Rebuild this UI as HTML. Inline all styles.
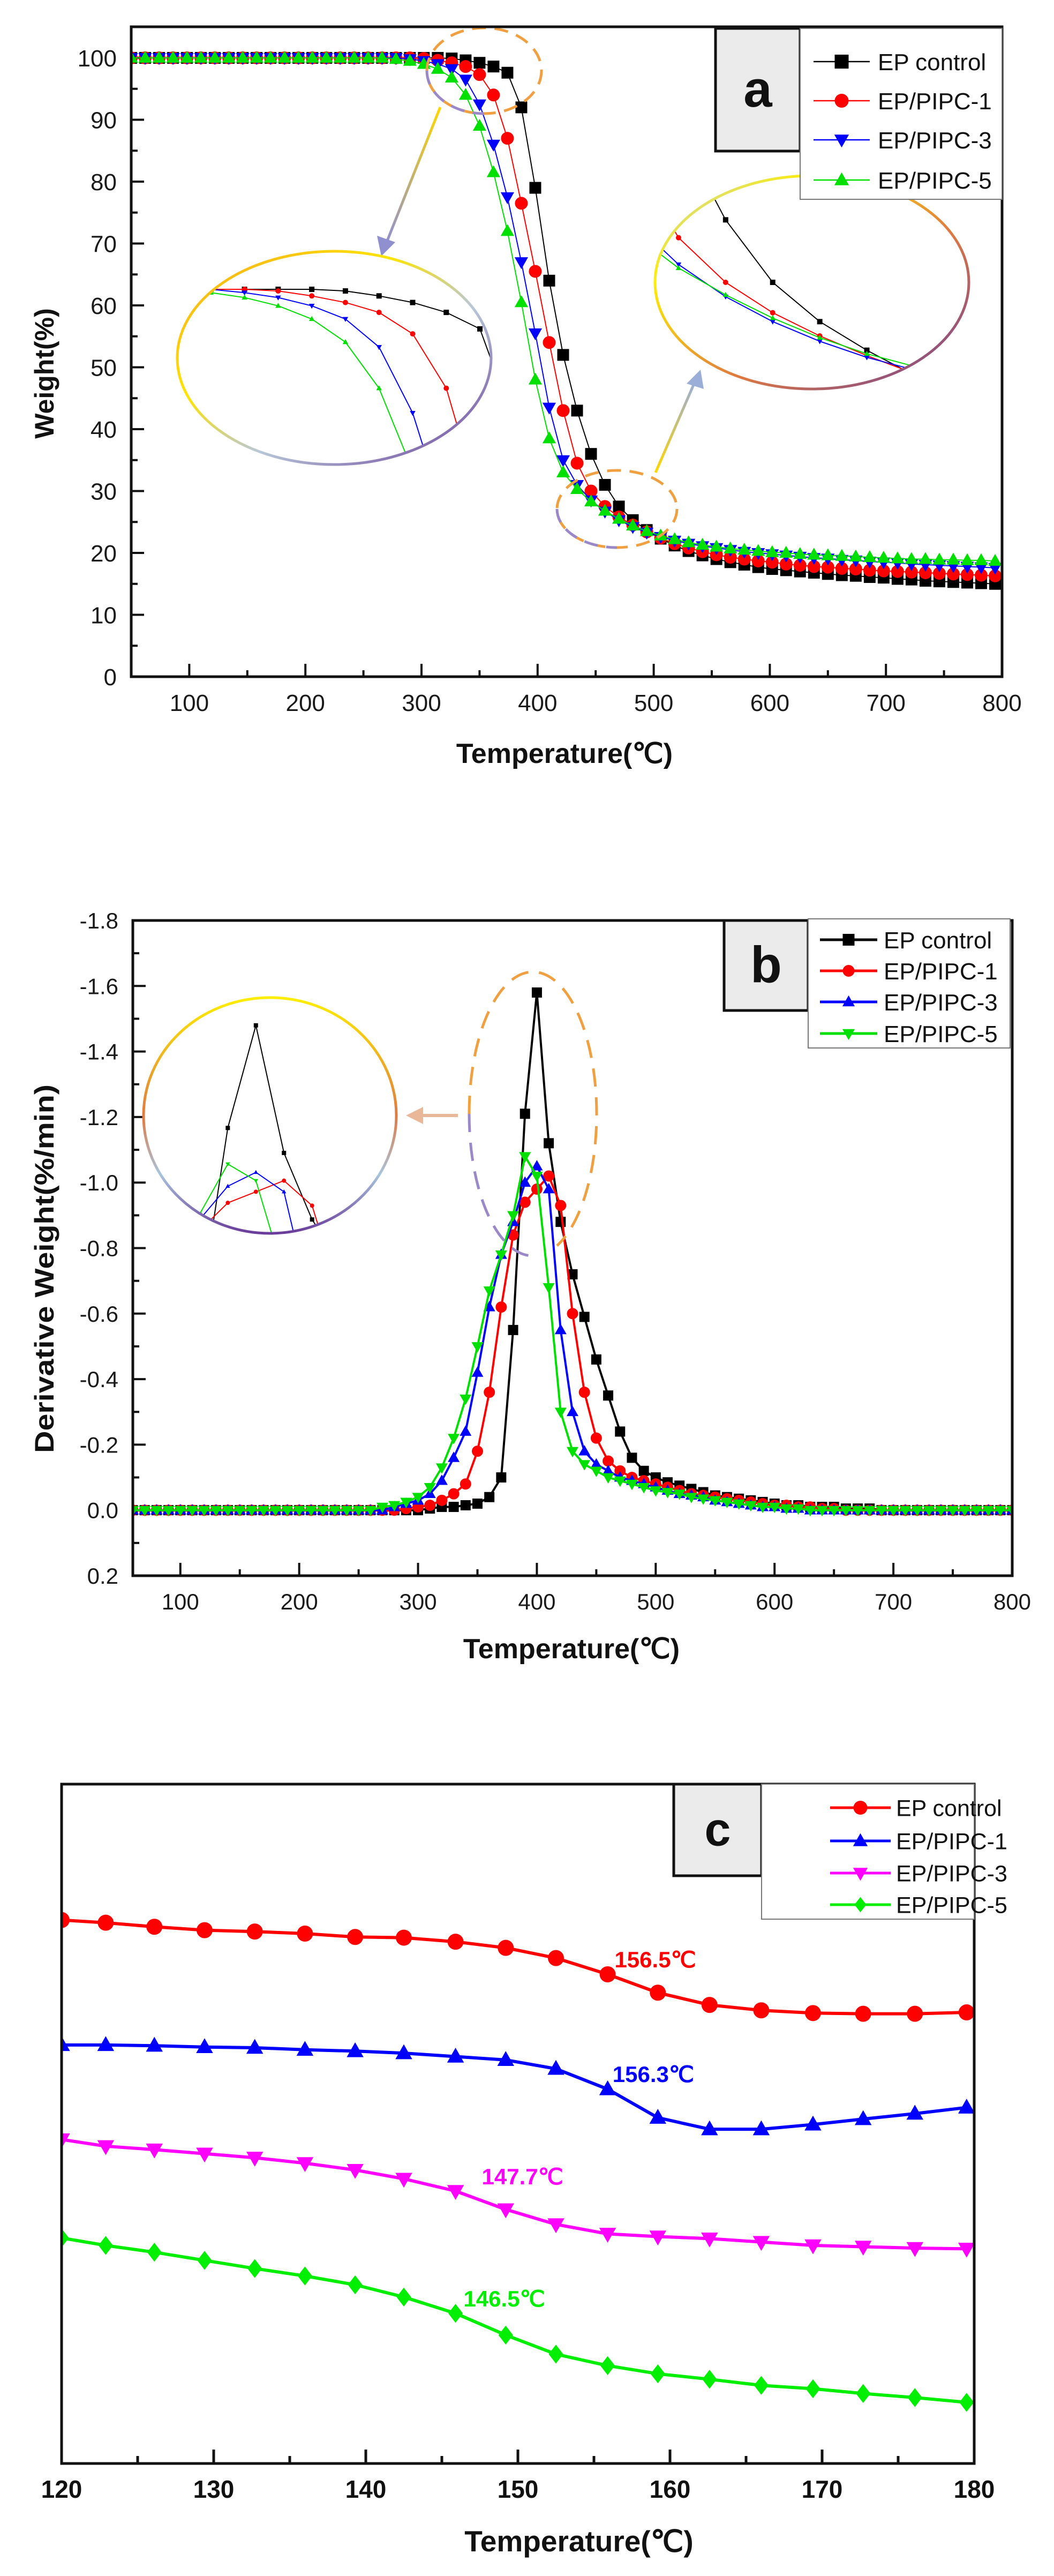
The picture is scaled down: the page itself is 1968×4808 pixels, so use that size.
<!DOCTYPE html>
<html><head><meta charset="utf-8"><title>TGA / DTG / DSC charts</title>
<style>
html,body{margin:0;padding:0;background:#fff;}
svg{display:block;font-family:"Liberation Sans",Arial,sans-serif;}
</style></head>
<body>
<svg id="fig" xmlns="http://www.w3.org/2000/svg" width="1968" height="4808" viewBox="0 0 1968 4808">
<defs>
<linearGradient id="ringA" x1="0" y1="0" x2="1" y2="1"><stop offset="0" stop-color="#f5a623"/><stop offset="0.35" stop-color="#ffe400"/><stop offset="0.6" stop-color="#b8c8d8"/><stop offset="1" stop-color="#6a3d9a"/></linearGradient>
<linearGradient id="ringB" x1="0" y1="0" x2="0" y2="1"><stop offset="0" stop-color="#ffee00"/><stop offset="0.5" stop-color="#e07a40"/><stop offset="0.75" stop-color="#a8c4de"/><stop offset="1" stop-color="#6a3d9a"/></linearGradient>
<linearGradient id="ringC" x1="0" y1="0" x2="1" y2="1"><stop offset="0" stop-color="#bcd0e0"/><stop offset="0.25" stop-color="#ffee00"/><stop offset="0.6" stop-color="#e07a40"/><stop offset="1" stop-color="#6a3d9a"/></linearGradient>
<linearGradient id="arrowA1" x1="0" y1="0" x2="0" y2="1"><stop offset="0" stop-color="#ffd700"/><stop offset="1" stop-color="#9090d0"/></linearGradient>
<linearGradient id="arrowA2" x1="0" y1="1" x2="0" y2="0"><stop offset="0" stop-color="#ffd700"/><stop offset="1" stop-color="#9aaed8"/></linearGradient>
<clipPath id="clipA1"><ellipse cx="624" cy="668" rx="293" ry="199"/></clipPath>
<clipPath id="clipA2"><ellipse cx="1516" cy="527" rx="293" ry="199"/></clipPath>
<clipPath id="clipB1"><ellipse cx="504" cy="2082" rx="236" ry="220"/></clipPath>
<clipPath id="plotA"><rect x="245" y="50" width="1626" height="1213"/></clipPath>
<clipPath id="plotB"><rect x="248" y="1718" width="1642" height="1223"/></clipPath>
<clipPath id="plotC"><rect x="115" y="3330" width="1704" height="1268"/></clipPath>
</defs>
<g id="chartA"></g>
<g id="chartB"></g>
<g id="chartC"></g>
</svg>
<script>
// ---------- Chart A data (TGA) ----------
const aTemps = [50,62,74,86,98,110,122,134,146,158,170,182,194,206,218,230,242,254,266,278,290,302,314,326,338,350,362,374,386,398,410,422,434,446,458,470,482,494,506,518,530,542,554,566,578,590,602,614,626,638,650,662,674,686,698,710,722,734,746,758,770,782,794];
const aBlack = [100,100,100,100,100,100,100,100,100,100,100,100,100,100,100,100,100,100,100,100,100,100,100,99.9,99.6,99.2,98.6,97.6,92,79,64,52,43,36,31,27.5,25.3,23.7,22.3,21.2,20.3,19.6,19,18.5,18.1,17.7,17.4,17.2,17.0,16.8,16.6,16.4,16.3,16.1,16.0,15.8,15.7,15.5,15.4,15.3,15.2,15.1,15.0];
const aRed = [100,100,100,100,100,100,100,100,100,100,100,100,100,100,100,100,100,100,100,100,100,99.9,99.6,99.2,98.6,97.3,94,87,76.5,65.5,54,43,34.5,30,27.5,25.8,24.5,23.4,22.4,21.5,20.8,20.2,19.7,19.3,19.0,18.7,18.5,18.2,18.0,17.8,17.7,17.5,17.4,17.2,17.1,17.0,16.9,16.8,16.7,16.6,16.5,16.4,16.3];
const aBlue = [100,100,100,100,100,100,100,100,100,100,100,100,100,100,100,100,100,100,100,100,99.8,99.5,99,98.2,96.5,92.5,86,77.5,67,55.5,43.5,35,31,28.5,26.7,25.3,24.2,23.3,22.6,22,21.5,21.1,20.8,20.5,20.2,20.0,19.8,19.6,19.4,19.2,19.1,18.9,18.8,18.6,18.5,18.4,18.2,18.1,18.0,17.9,17.8,17.7,17.6];
const aGreen = [100,100,100,100,100,100,100,100,100,100,100,100,100,100,100,100,100,100,100,99.8,99.5,99,98.2,96.8,94,89,81.5,72,60.5,48,38.5,33,30.3,28.3,26.8,25.5,24.4,23.5,22.8,22.2,21.7,21.3,21.0,20.7,20.5,20.3,20.1,20.0,19.8,19.7,19.6,19.5,19.4,19.3,19.2,19.1,19.0,19.0,18.9,18.9,18.8,18.8,18.7];
const aXTicks = [100,200,300,400,500,600,700,800];
const aXLabels = ["100","200","300","400","500","600","700","800"];
const aYTicks = [0,10,20,30,40,50,60,70,80,90,100];
const aYLabels = ["0","10","20","30","40","50","60","70","80","90","100"];
const aNames = ["EP control","EP/PIPC-1","EP/PIPC-3","EP/PIPC-5"];

// ---------- Chart B data (DTG) ----------
const bTemps = [60,70,80,90,100,110,120,130,140,150,160,170,180,190,200,210,220,230,240,250,260,270,280,290,300,310,320,330,340,350,360,370,380,390,400,410,420,430,440,450,460,470,480,490,500,510,520,530,540,550,560,570,580,590,600,610,620,630,640,650,660,670,680,690,700,710,720,730,740,750,760,770,780,790,800];
const bBlack = [0,0,0,0,0,0,0,0,0,0,0,0,0,0,0,0,0,0,0,0,0,0,0,0,0,-0.005,-0.01,-0.01,-0.015,-0.02,-0.04,-0.10,-0.55,-1.21,-1.58,-1.12,-0.88,-0.72,-0.59,-0.46,-0.35,-0.24,-0.16,-0.12,-0.10,-0.085,-0.075,-0.065,-0.055,-0.045,-0.04,-0.035,-0.03,-0.025,-0.02,-0.015,-0.015,-0.01,-0.01,-0.01,-0.005,-0.005,-0.005,0,0,0,0,0,0,0,0,0,0,0,0];
const bRed = [0,0,0,0,0,0,0,0,0,0,0,0,0,0,0,0,0,0,0,0,0,0,0,-0.005,-0.01,-0.015,-0.03,-0.05,-0.08,-0.18,-0.36,-0.62,-0.84,-0.94,-0.98,-1.02,-0.93,-0.60,-0.36,-0.22,-0.15,-0.12,-0.10,-0.09,-0.08,-0.07,-0.06,-0.05,-0.045,-0.04,-0.035,-0.03,-0.025,-0.02,-0.015,-0.015,-0.01,-0.01,-0.005,-0.005,0,0,0,0,0,0,0,0,0,0,0,0,0,0,0];
const bBlue = [0,0,0,0,0,0,0,0,0,0,0,0,0,0,0,0,0,0,0,0,0,0,-0.01,-0.02,-0.03,-0.05,-0.09,-0.16,-0.24,-0.42,-0.62,-0.78,-0.88,-1.0,-1.05,-0.98,-0.55,-0.30,-0.18,-0.14,-0.12,-0.10,-0.09,-0.08,-0.07,-0.06,-0.05,-0.045,-0.04,-0.03,-0.025,-0.02,-0.015,-0.01,-0.01,-0.005,-0.005,0,0,0,0,0,0,0,0,0,0,0,0,0,0,0,0,0,0];
const bGreen = [0,0,0,0,0,0,0,0,0,0,0,0,0,0,0,0,0,0,0,0,0,-0.01,-0.015,-0.025,-0.04,-0.07,-0.13,-0.22,-0.34,-0.50,-0.67,-0.78,-0.90,-1.08,-1.02,-0.68,-0.30,-0.18,-0.14,-0.12,-0.10,-0.09,-0.08,-0.07,-0.06,-0.055,-0.05,-0.04,-0.035,-0.03,-0.025,-0.02,-0.015,-0.01,-0.01,-0.005,-0.005,0,0,0,0,0,0,0,0,0,0,0,0,0,0,0,0,0,0];
const bXTicks = [100,200,300,400,500,600,700,800];
const bXLabels = ["100","200","300","400","500","600","700","800"];
const bYTicks = [-1.8,-1.6,-1.4,-1.2,-1.0,-0.8,-0.6,-0.4,-0.2,0.0,0.2];
const bYLabels = ["-1.8","-1.6","-1.4","-1.2","-1.0","-0.8","-0.6","-0.4","-0.2","0.0","0.2"];

// ---------- Chart C data (DSC, arbitrary heat-flow units 0..100) ----------
const cTemps = [120,122.9,126.1,129.4,132.7,136.0,139.3,142.5,145.9,149.2,152.5,155.9,159.2,162.6,166.0,169.4,172.7,176.1,179.5];
const cRed = [80.0,79.6,79.0,78.5,78.3,78.0,77.5,77.4,76.8,75.9,74.4,72.0,69.3,67.5,66.7,66.3,66.2,66.2,66.4];
const cBlue = [61.6,61.6,61.5,61.3,61.2,60.9,60.7,60.4,59.9,59.4,58.1,55.1,50.9,49.2,49.2,49.9,50.7,51.5,52.4];
const cMagenta = [47.7,46.7,46.2,45.6,45.0,44.2,43.2,41.9,40.1,37.4,35.2,33.8,33.4,33.1,32.6,32.1,31.9,31.7,31.6];
const cGreen = [33.2,32.1,31.1,29.9,28.7,27.6,26.3,24.5,22.1,18.9,16.1,14.4,13.2,12.4,11.5,11.0,10.3,9.7,9.0];
const cXTicks = [120,130,140,150,160,170,180];
const cXLabels = ["120","130","140","150","160","170","180"];
const cTgLabels = ["156.5\u2103","156.3\u2103","147.7\u2103","146.5\u2103"];
const cTgTemps = [156.5,156.3,147.7,146.5];

const NS = "http://www.w3.org/2000/svg";
function mk(tag, attrs, parent){
  const e = document.createElementNS(NS, tag);
  for (const k in attrs) e.setAttribute(k, attrs[k]);
  if (parent) parent.appendChild(e);
  return e;
}
function marker(g, type, x, y, s, color){
  let e;
  const h = s/2;
  if (type === "square") e = mk("rect", {x:x-h, y:y-h, width:s, height:s, fill:color}, g);
  else if (type === "circle") e = mk("circle", {cx:x, cy:y, r:h, fill:color}, g);
  else if (type === "up") e = mk("polygon", {points:`${x},${y-h*1.1} ${x+h*1.05},${y+h*0.75} ${x-h*1.05},${y+h*0.75}`, fill:color}, g);
  else if (type === "down") e = mk("polygon", {points:`${x},${y+h*1.1} ${x+h*1.05},${y-h*0.75} ${x-h*1.05},${y-h*0.75}`, fill:color}, g);
  else e = mk("polygon", {points:`${x},${y-h*1.1} ${x+h*0.85},${y} ${x},${y+h*1.1} ${x-h*0.85},${y}`, fill:color}, g);
  
  
  return e;
}
function series(g, xs, ys, sx, sy, color, lw, type, ms, name, withMarkers){
  const sg = mk("g", {}, g);
  
  
  const pts = xs.map((t,i)=> sx(t).toFixed(1)+","+sy(ys[i]).toFixed(1)).join(" ");
  const pl = mk("polyline", {points:pts, fill:"none", stroke:color, "stroke-width":lw, "stroke-linejoin":"round"}, sg);
  
  
  if (withMarkers) xs.forEach((t,i)=> marker(sg, type, sx(t), sy(ys[i]), ms, color));
  return sg;
}
function text(g, x, y, str, size, opts){
  const t = mk("text", Object.assign({x:x, y:y, "font-size":size, fill:"#1a1a1a"}, opts||{}), g);
  t.textContent = str;
  return t;
}
function axesFrame(g, L, T, R, B){
  const f = mk("rect", {x:L, y:T, width:R-L, height:B-T, fill:"none", stroke:"#111", "stroke-width":5}, g);
  
  
}
function legend(g, x0, y0, x1, y1, rows, names, colors, types, ms, lineX0, lineX1, textX, fs, lw){
  const lg = mk("g", {}, g);
  
  
  mk("rect", {x:x0, y:y0, width:x1-x0, height:y1-y0, fill:"#fff", stroke:"#777", "stroke-width":2}, lg);
  names.forEach((n,i)=>{
    const eg = mk("g", {}, lg);
    
    
    mk("line", {x1:lineX0, y1:rows[i], x2:lineX1, y2:rows[i], stroke:colors[i], "stroke-width":lw}, eg);
    marker(eg, types[i], (lineX0+lineX1)/2, rows[i], ms, colors[i]);
    text(eg, textX, rows[i]+fs*0.36, n, fs, {"fill":"#111"});
  });
}
function panelLabel(g, x0, y0, x1, y1, letter, fs){
  const pg = mk("g", {}, g);
  
  
  mk("rect", {x:x0, y:y0, width:x1-x0, height:y1-y0, fill:"#ebebeb", stroke:"#111", "stroke-width":5}, pg);
  text(pg, (x0+x1)/2, (y0+y1)/2 + fs*0.33, letter, fs, {"text-anchor":"middle","font-weight":"bold","fill":"#111"});
}

// ================= Chart A =================
(function(){
  const g = document.getElementById("chartA");
  const L=245, R=1871, T=50, B=1263;
  const xa = t => L + (t-50)*(R-L)/750;
  const ya = w => B - w*(B-108)/100;
  // ticks
  const tg = mk("g", {stroke:"#111","stroke-width":4}, g);
  
  
  for (let t=50; t<=800; t+=50){ const maj = aXTicks.includes(t); mk("line",{x1:xa(t),y1:B,x2:xa(t),y2:B-(maj?24:12)},tg); }
  for (let w=0; w<=105; w+=5){ const maj = aYTicks.includes(w); mk("line",{x1:L,y1:ya(w),x2:L+(maj?24:12),y2:ya(w)},tg); }
  const xl = mk("g", {}, g);
  
  
  aXTicks.forEach((t,i)=> text(xl, xa(t), B+64, aXLabels[i], 44, {"text-anchor":"middle"}));
  const yl = mk("g", {}, g);
  
  
  aYTicks.forEach((w,i)=> text(yl, 218, ya(w)+16, aYLabels[i], 44, {"text-anchor":"end"}));
  const xt = text(g, 1054, 1424, "Temperature(\u2103)", 52, {"text-anchor":"middle","font-weight":"bold","fill":"#111"});
  
  
  const yt = text(g, 0, 0, "Weight(%)", 50, {"text-anchor":"middle","font-weight":"bold","fill":"#111","transform":"translate(100,697) rotate(-90)"});
  
  
  // series
  const pg = mk("g", {"clip-path":"url(#plotA)"}, g);
  series(pg, aTemps, aBlack, xa, ya, "#000", 2, "square", 22, "series-ep-control", true);
  series(pg, aTemps, aRed, xa, ya, "#ff0000", 2, "circle", 24, "series-ep-pipc-1", true);
  series(pg, aTemps, aBlue, xa, ya, "#0000ff", 2, "down", 24, "series-ep-pipc-3", true);
  series(pg, aTemps, aGreen, xa, ya, "#00e000", 2, "up", 24, "series-ep-pipc-5", true);
  // dashed highlight ellipses
  const hl = mk("g", {fill:"none","stroke-width":5,"stroke-dasharray":"26 16"}, g);
  
  
  mk("ellipse",{cx:904,cy:132,rx:107,ry:80,stroke:"#f0a040"},hl);
  mk("path",{d:"M797,132 A107,80 0 0 0 904,212",stroke:"#9a88c8"},hl);
  mk("ellipse",{cx:1152,cy:950,rx:112,ry:72,stroke:"#f0a040"},hl);
  mk("path",{d:"M1040,950 A112,72 0 0 0 1152,1022",stroke:"#9a88c8"},hl);
  // arrows
  const ar = mk("g", {}, g);
  
  
  mk("line",{x1:822,y1:200,x2:722,y2:452,stroke:"url(#arrowA1)","stroke-width":5},ar);
  mk("polygon",{points:"712,478 704,440 738,452",fill:"#9090d0"},ar);
  mk("line",{x1:1224,y1:882,x2:1296,y2:716,stroke:"url(#arrowA2)","stroke-width":5},ar);
  mk("polygon",{points:"1308,690 1282,716 1314,726",fill:"#9aaed8"},ar);
  // inset 1
  const i1 = mk("g", {}, g);
  
  
  mk("ellipse",{cx:624,cy:668,rx:293,ry:199,fill:"#fff"},i1);
  const i1c = mk("g",{"clip-path":"url(#clipA1)"},i1);
  const x1s = t => 331 + (t-266)*(586/112);
  const y1s = w => 540 + (100-w)*(400/13);
  series(i1c, aTemps, aBlack, x1s, y1s, "#000", 2, "square", 10, "inset-ep-control", true);
  series(i1c, aTemps, aRed, x1s, y1s, "#ff0000", 2, "circle", 10, "inset-ep-pipc-1", true);
  series(i1c, aTemps, aBlue, x1s, y1s, "#0000ff", 2, "down", 10, "inset-ep-pipc-3", true);
  series(i1c, aTemps, aGreen, x1s, y1s, "#00e000", 2, "up", 10, "inset-ep-pipc-5", true);
  mk("ellipse",{cx:624,cy:668,rx:293,ry:199,fill:"none",stroke:"url(#ringA)","stroke-width":5},i1);
  // inset 2
  const i2 = mk("g", {}, g);
  
  
  mk("ellipse",{cx:1516,cy:527,rx:293,ry:199,fill:"#fff"},i2);
  const i2c = mk("g",{"clip-path":"url(#clipA2)"},i2);
  const x2s = t => 1223 + (t-440)*(586/80);
  const y2s = w => 727 - (w-21.5)*(400/12);
  series(i2c, aTemps, aBlack, x2s, y2s, "#000", 2, "square", 10, "inset2-ep-control", true);
  series(i2c, aTemps, aRed, x2s, y2s, "#ff0000", 2, "circle", 10, "inset2-ep-pipc-1", true);
  series(i2c, aTemps, aBlue, x2s, y2s, "#0000ff", 2, "down", 10, "inset2-ep-pipc-3", true);
  series(i2c, aTemps, aGreen, x2s, y2s, "#00e000", 2, "up", 10, "inset2-ep-pipc-5", true);
  mk("ellipse",{cx:1516,cy:527,rx:293,ry:199,fill:"none",stroke:"url(#ringC)","stroke-width":5},i2);
  axesFrame(g, L, T, R, B);
  panelLabel(g, 1336, 53, 1494, 282, "a", 96);
  legend(g, 1494, 53, 1871, 372, [115,188,261,336], aNames, ["#000","#ff0000","#0000ff","#00e000"], ["square","circle","down","up"], 26, 1519, 1624, 1639, 44, 2.5);
})();

// ================= Chart B =================
(function(){
  const g = document.getElementById("chartB");
  const L=248, R=1890, T=1718, B=2941;
  const xb = t => L + (t-60)*(R-L)/740;
  const yb = v => T + (v+1.8)*(B-T)/2;
  const tg = mk("g", {stroke:"#111","stroke-width":4}, g);
  
  
  for (let t=100; t<=800; t+=50){ const maj = bXTicks.includes(t); mk("line",{x1:xb(t),y1:B,x2:xb(t),y2:B-(maj?24:12)},tg); }
  for (let k=0; k<=20; k++){ const v=-1.8+k*0.1; const maj = k%2===0; mk("line",{x1:L,y1:yb(v),x2:L+(maj?24:12),y2:yb(v)},tg); }
  const xl = mk("g", {}, g);
  
  
  bXTicks.forEach((t,i)=> text(xl, xb(t), B+63, bXLabels[i], 42, {"text-anchor":"middle"}));
  const yl = mk("g", {}, g);
  
  
  bYTicks.forEach((v,i)=> text(yl, 221, yb(v)+15, bYLabels[i], 42, {"text-anchor":"end"}));
  const xt = text(g, 1067, 3095, "Temperature(\u2103)", 52, {"text-anchor":"middle","font-weight":"bold","fill":"#111"});
  
  
  const yt = text(g, 0, 0, "Derivative Weight(%/min)", 50, {"text-anchor":"middle","font-weight":"bold","fill":"#111","textLength":688,"lengthAdjust":"spacingAndGlyphs","transform":"translate(100,2368) rotate(-90)"});
  
  
  const pg = mk("g", {"clip-path":"url(#plotB)"}, g);
  series(pg, bTemps, bBlack, xb, yb, "#000", 4, "square", 19, "series-ep-control", true);
  series(pg, bTemps, bRed, xb, yb, "#ff0000", 4, "circle", 21, "series-ep-pipc-1", true);
  series(pg, bTemps, bBlue, xb, yb, "#0000ff", 4, "up", 21, "series-ep-pipc-3", true);
  series(pg, bTemps, bGreen, xb, yb, "#00e000", 4, "down", 21, "series-ep-pipc-5", true);
  const hl = mk("g", {fill:"none","stroke-width":5,"stroke-dasharray":"34 20"}, g);
  
  
  mk("path",{d:"M876,2079 A119,265 0 0 1 995,1814 A119,265 0 0 1 1114,2079 A119,265 0 0 1 1040,2325",stroke:"#f0a040"},hl);
  mk("path",{d:"M876,2079 A119,265 0 0 0 995,2344",stroke:"#9a88c8"},hl);
  const ar = mk("g", {}, g);
  
  
  mk("line",{x1:855,y1:2082,x2:785,y2:2082,stroke:"#e8b898","stroke-width":6},ar);
  mk("polygon",{points:"758,2082 790,2066 790,2098",fill:"#e8b898"},ar);
  const i1 = mk("g", {}, g);
  
  
  mk("ellipse",{cx:504,cy:2082,rx:236,ry:220,fill:"#fff"},i1);
  const ic = mk("g",{"clip-path":"url(#clipB1)"},i1);
  const xs = t => 268 + (t-360)*(472/90);
  const ys = v => 1862 + (v+1.68)*(440/0.85);
  series(ic, bTemps, bBlack, xs, ys, "#000", 2, "square", 8, "inset-ep-control", true);
  series(ic, bTemps, bRed, xs, ys, "#ff0000", 2, "circle", 8, "inset-ep-pipc-1", true);
  series(ic, bTemps, bBlue, xs, ys, "#0000ff", 2, "up", 8, "inset-ep-pipc-3", true);
  series(ic, bTemps, bGreen, xs, ys, "#00e000", 2, "down", 8, "inset-ep-pipc-5", true);
  mk("ellipse",{cx:504,cy:2082,rx:236,ry:220,fill:"none",stroke:"url(#ringB)","stroke-width":5},i1);
  axesFrame(g, L, T, R, B);
  panelLabel(g, 1352, 1718, 1509, 1886, "b", 96);
  legend(g, 1509, 1715, 1886, 1956, [1754,1812,1870,1929], aNames, ["#000","#ff0000","#0000ff","#00e000"], ["square","circle","up","down"], 22, 1531, 1638, 1650, 44, 5);
})();

// ================= Chart C =================
(function(){
  const g = document.getElementById("chartC");
  const L=115, R=1819, T=3330, B=4598;
  const xc = t => L + (t-120)*(R-L)/60;
  const yc = v => B - v*(B-T)/100;
  const tg = mk("g", {stroke:"#111","stroke-width":5}, g);
  
  
  for (let t=120; t<=180; t+=5){ const maj = cXTicks.includes(t); mk("line",{x1:xc(t),y1:B,x2:xc(t),y2:B-(maj?26:14)},tg); }
  const xl = mk("g", {}, g);
  
  
  cXTicks.forEach((t,i)=> text(xl, xc(t), B+64, cXLabels[i], 46, {"text-anchor":"middle","font-weight":"bold","fill":"#111"}));
  const xt = text(g, 1081, 4762, "Temperature(\u2103)", 55, {"text-anchor":"middle","font-weight":"bold","fill":"#111"});
  
  
  const pg = mk("g", {"clip-path":"url(#plotC)"}, g);
  const cols = ["#ff0000","#0000ff","#ff00ff","#00ee00"];
  series(pg, cTemps, cRed, xc, yc, cols[0], 6, "circle", 30, "series-ep-control", true);
  series(pg, cTemps, cBlue, xc, yc, cols[1], 6, "up", 30, "series-ep-pipc-1", true);
  series(pg, cTemps, cMagenta, xc, yc, cols[2], 6, "down", 30, "series-ep-pipc-3", true);
  series(pg, cTemps, cGreen, xc, yc, cols[3], 6, "diamond", 32, "series-ep-pipc-5", true);
  const al = mk("g", {}, g);
  
  
  const annY = [3672, 3886, 4077, 4305];
  const annDx = [72, 74, 74, 74];
  cTgLabels.forEach((s,i)=> text(al, xc(cTgTemps[i]) + annDx[i], annY[i], s, 42, {"text-anchor":"middle","font-weight":"bold","fill":cols[i]}));
  axesFrame(g, L, T, R, B);
  panelLabel(g, 1258, 3330, 1422, 3501, "c", 88);
  legend(g, 1422, 3330, 1819, 3582, [3374,3436,3496,3555], aNames, cols, ["circle","up","down","diamond"], 26, 1550, 1663, 1673, 43, 5);
})();
</script>
</body></html>
